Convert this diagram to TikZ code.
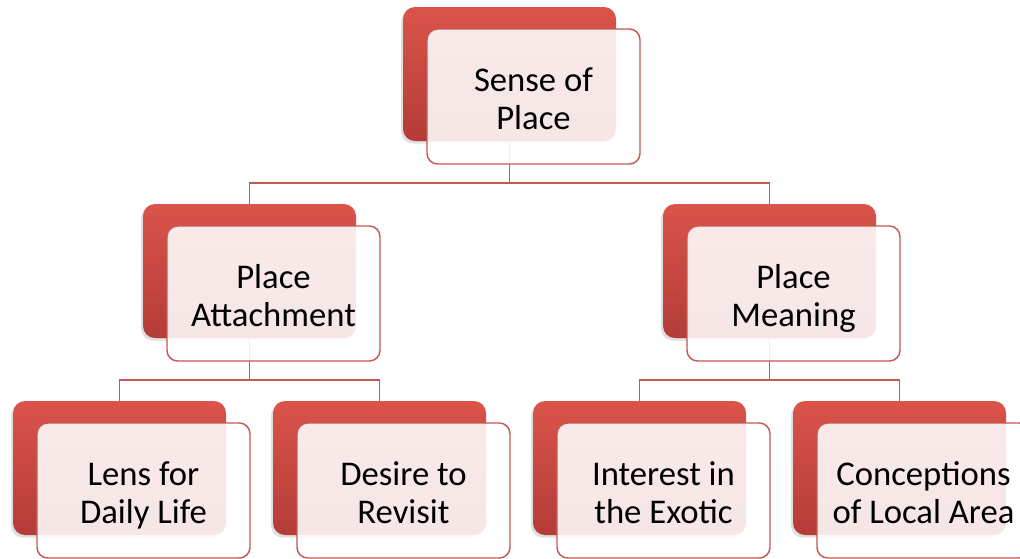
\documentclass[tikz,border=0pt]{standalone}
\usepackage{fontspec}
\setmainfont{Carlito}
\usetikzlibrary{backgrounds}
\usetikzlibrary{shadows}
\definecolor{sred}{RGB}{218,84,74}
\definecolor{sdark}{RGB}{180,60,55}
\definecolor{sline}{RGB}{198,88,82}
\tikzset{backbox/.style = {rounded corners = 9pt, top color = sred, bottom color = sdark, minimum width = 159.75pt, minimum height = 100.5pt, inner sep = 0, drop shadow = {opacity = 0.25, shadow xshift = -1.5pt, shadow yshift = -2pt}}}
\tikzset{frontbox/.style = {draw = sline, line width = 1.1pt, rounded corners = 8pt, fill = white, fill opacity = 0.88, text opacity = 1, minimum width = 159.75pt, minimum height = 101.25pt, inner sep = 0, align = center, font = \fontsize{26}{29}\selectfont, text height = 59pt, text depth = 9pt}}
\tikzset{link/.style = {draw = sline, line width = 1.4pt}}

\begin{document}
\begin{tikzpicture}[x = 0.75pt, y = -0.75pt]
    \useasboundingbox (0, 0) rectangle (1020, 558);

    \node [backbox] (sp) at (509.5, 74) {};
    \node [frontbox] (spt) at (533.5, 96.5) {Sense of\\Place};

    \node [backbox] (pa) at (249.5, 271) {};
    \node [frontbox] (pat) at (273.5, 293.5) {Place\\Attachment};

    \node [backbox] (pm) at (769.5, 271) {};
    \node [frontbox] (pmt) at (793.5, 293.5) {Place\\Meaning};

    \node [backbox] (lens) at (119.5, 468) {};
    \node [frontbox] (lenst) at (143.5, 490.5) {Lens for\\Daily Life};

    \node [backbox] (rev) at (379.5, 468) {};
    \node [frontbox] (revt) at (403.5, 490.5) {Desire to\\Revisit};

    \node [backbox] (exo) at (639.5, 468) {};
    \node [frontbox] (exot) at (663.5, 490.5) {Interest in\\the Exotic};

    \node [backbox] (loc) at (899.5, 468) {};
    \node [frontbox] (loct) at (923.5, 490.5) {Conceptions\\of Local Area};

    \begin{scope}[on background layer]
      \draw [link] (pa.north) -- ++(0, -21) -| (sp.south);
      \draw [link] (pm.north) -- ++(0, -21) -| (sp.south);

      \draw [link] (lens.north) -- ++(0, -21) -| (pa.south);
      \draw [link] (rev.north) -- ++(0, -21) -| (pa.south);

      \draw [link] (exo.north) -- ++(0, -21) -| (pm.south);
      \draw [link] (loc.north) -- ++(0, -21) -| (pm.south);
    \end{scope}
  \end{tikzpicture}
\end{document}
